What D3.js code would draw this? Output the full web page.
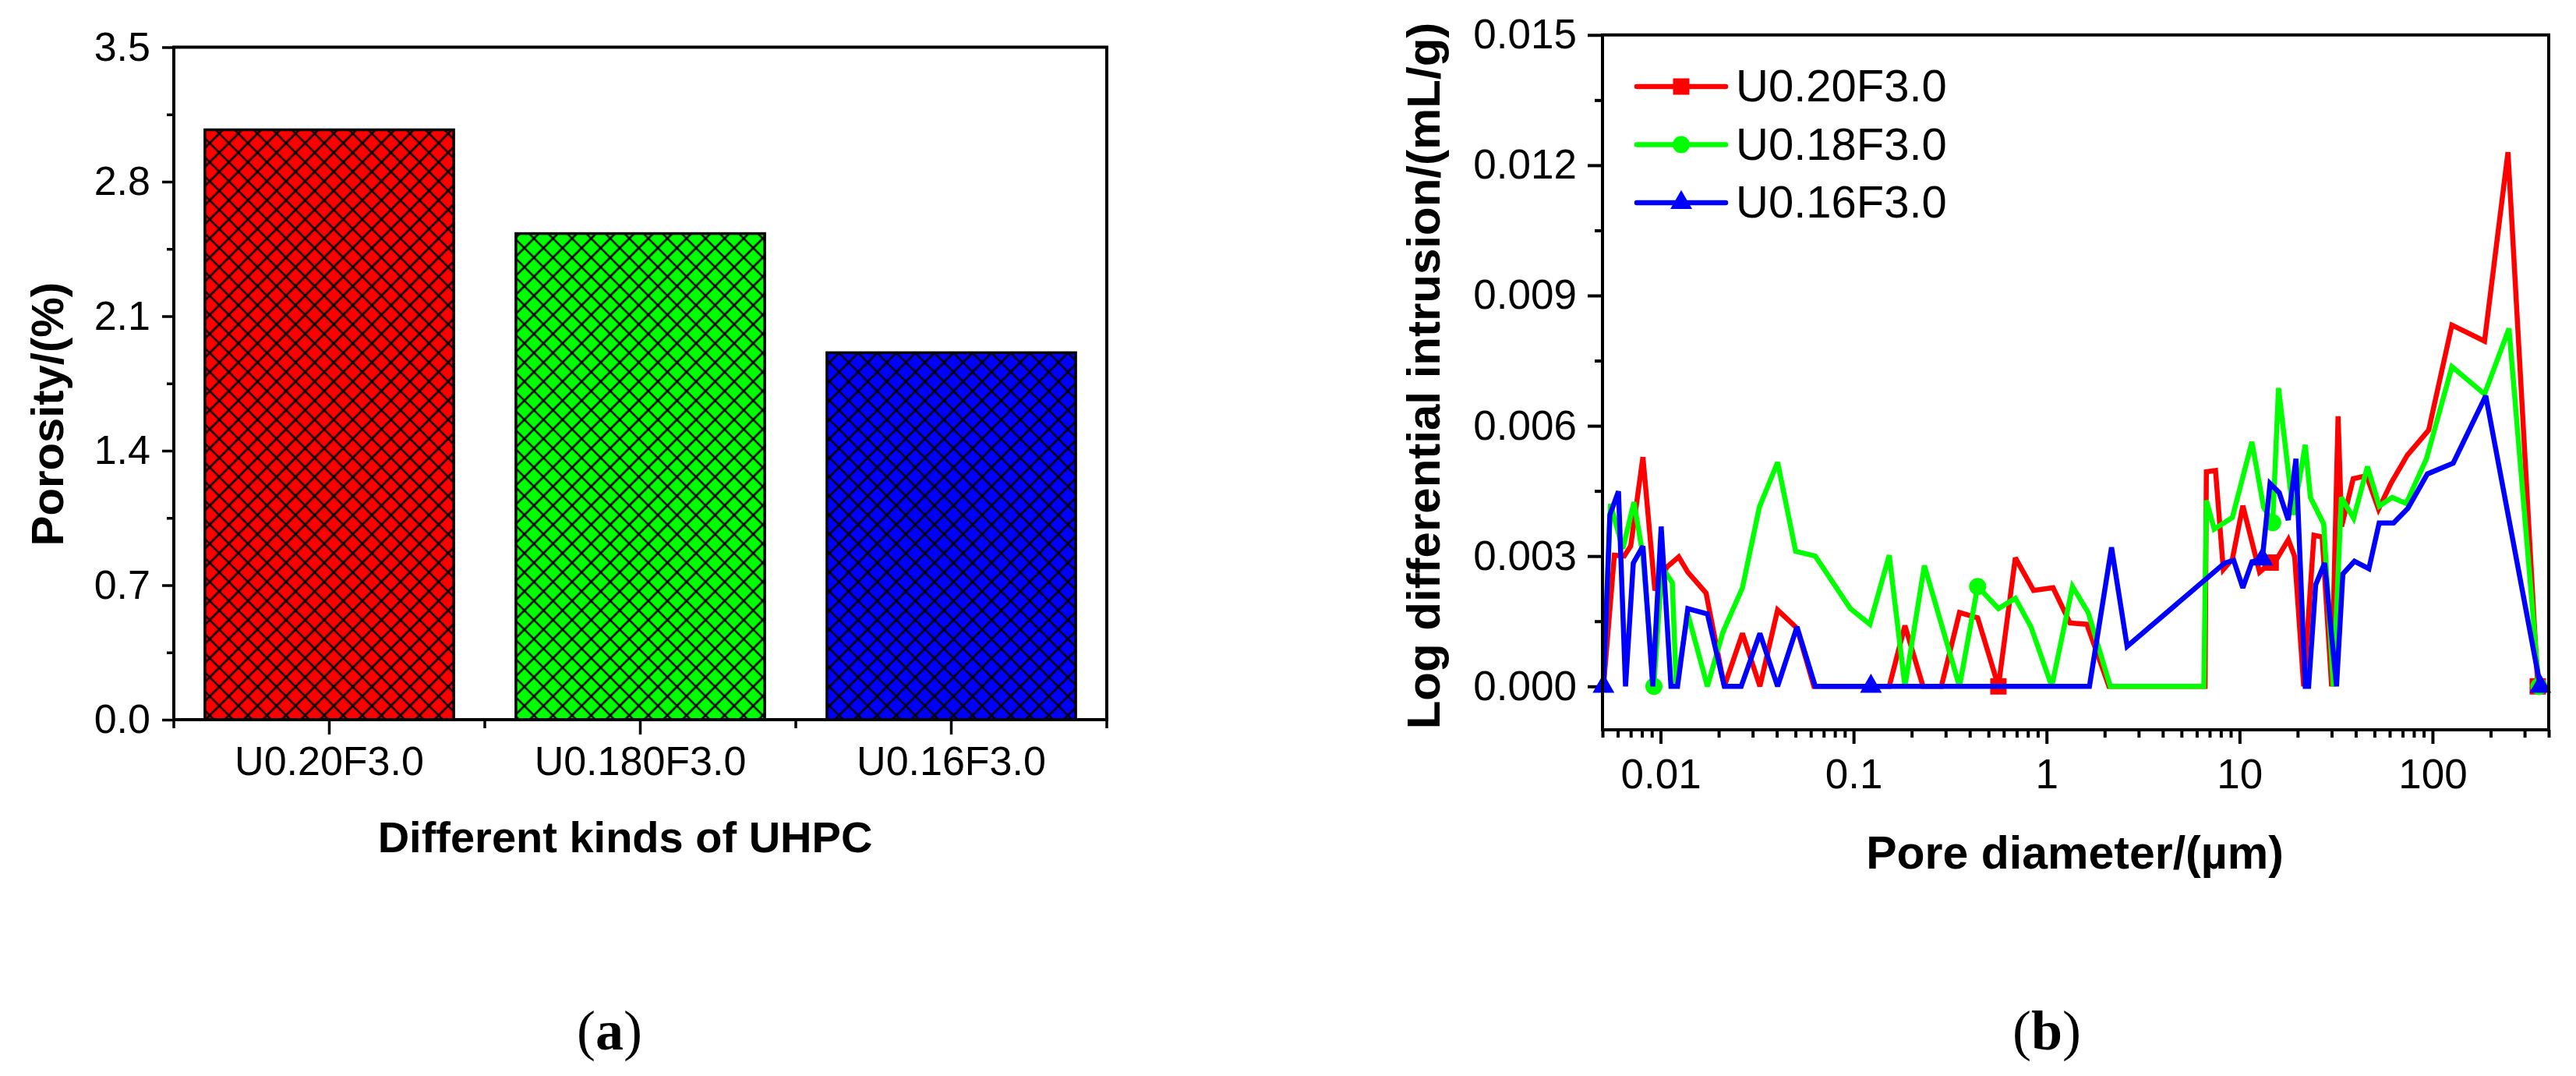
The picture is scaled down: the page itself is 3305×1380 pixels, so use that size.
<!DOCTYPE html>
<html>
<head>
<meta charset="utf-8">
<script src="https://cdn.jsdelivr.net/npm/d3@7"></script>
<style>
  body { margin: 0; background: #fff; }
  text { font-family: "Liberation Sans", Arial, sans-serif; fill: #000; }
</style>
</head>
<body>
<svg width="3305" height="1380"></svg>
<script>
// ---- panel (a) data ----
var kinds = ["U0.20F3.0", "U0.180F3.0", "U0.16F3.0"];
var porosity = [3.07, 2.53, 1.91];
var barColors = ["#ff0000", "#00ff00", "#0000ff"];
var porTicks = [0, 0.7, 1.4, 2.1, 2.8, 3.5];

// ---- panel (b) data: [pore diameter um, log differential intrusion mL/g] ----
var seriesNames = ["U0.20F3.0", "U0.18F3.0", "U0.16F3.0"];
var redData = [
  [0.00506, 0.0], [0.00576, 0.00302], [0.00648, 0.003], [0.007, 0.00323], [0.0081, 0.00528],
  [0.00934, 0.00221], [0.0108, 0.00275], [0.01242, 0.00298], [0.01384, 0.00263], [0.0172, 0.00215],
  [0.0214, 0.0], [0.02655, 0.00122], [0.0327, 0.0], [0.0404, 0.00176], [0.0509, 0.00134],
  [0.0623, 0.0], [0.153, 0.0], [0.1845, 0.0014], [0.229, 0.0], [0.285, 0.0],
  [0.354, 0.0017], [0.4395, 0.00158], [0.563, 0.0], [0.689, 0.00296], [0.856, 0.00221],
  [1.081, 0.00227], [1.322, 0.00146], [1.617, 0.00143], [2.105, 0.0], [6.63, 0.0],
  [6.73, 0.00494], [7.51, 0.00497], [8.24, 0.00269], [9.18, 0.00293], [10.4, 0.00416],
  [12.7, 0.00263], [14.5, 0.00285], [15.3, 0.00287], [17.9, 0.00338], [19.3, 0.00299],
  [21.5, 0.0], [24.3, 0.00348], [26.8, 0.00344], [30.0, 0.0], [32.4, 0.00622],
  [33.8, 0.00368], [38.8, 0.00478], [45.5, 0.00485], [52.5, 0.00408], [61, 0.00468],
  [74, 0.00532], [95.5, 0.0059], [126, 0.00832], [186, 0.00795], [246, 0.0123], [351, 0.0]
];
var greenData = [
  [0.00506, 0.0], [0.0055, 0.0042], [0.00637, 0.00317], [0.00728, 0.00424], [0.00808, 0.00304],
  [0.00923, 0.0], [0.01016, 0.00275], [0.0115, 0.00239], [0.01205, 0.0], [0.01384, 0.00167],
  [0.01748, 0.0], [0.02104, 0.00125], [0.02655, 0.00227], [0.0325, 0.00413], [0.0404, 0.00516],
  [0.0501, 0.00311], [0.0633, 0.003], [0.0962, 0.00179], [0.1214, 0.00143], [0.153, 0.00302],
  [0.1845, 0.0], [0.2327, 0.00278], [0.3538, 0.0], [0.4395, 0.0023], [0.5632, 0.00179],
  [0.689, 0.00203], [0.83, 0.00137], [1.064, 0.0], [1.363, 0.0023], [1.643, 0.0017],
  [2.138, 0.0], [6.53, 0.0], [6.73, 0.00428], [7.39, 0.00362], [9.18, 0.00389],
  [11.59, 0.00563], [13.32, 0.00413], [14.85, 0.00377], [15.92, 0.00687], [19.0, 0.00395],
  [21.9, 0.00556], [23.3, 0.00435], [27.3, 0.00374], [30.6, 0.0], [33.7, 0.00435],
  [39.0, 0.00387], [46.0, 0.00506], [53.0, 0.00415], [61.7, 0.00435], [73.0, 0.00421],
  [93.0, 0.00524], [126, 0.00736], [186, 0.00673], [249, 0.00824], [356, 0.0]
];
var blueData = [
  [0.00506, 0.0], [0.00546, 0.00395], [0.00605, 0.00449], [0.00658, 0.0], [0.00722, 0.00284],
  [0.0081, 0.00323], [0.00911, 0.0], [0.01007, 0.00368], [0.01132, 0.0], [0.01224, 0.0],
  [0.01384, 0.00179], [0.01748, 0.00167], [0.0214, 0.0], [0.02616, 0.0], [0.0327, 0.00122],
  [0.0404, 0.0], [0.0509, 0.00137], [0.0633, 0.0], [0.123, 0.0], [1.668, 0.0],
  [2.171, 0.0032], [2.615, 0.00092], [8.37, 0.00284], [9.33, 0.0029], [10.4, 0.00227],
  [11.6, 0.00287], [13.12, 0.00293], [14.39, 0.00467], [16.05, 0.00446], [17.88, 0.00383],
  [19.6, 0.00524], [21.9, 0.0], [22.8, 0.0], [24.8, 0.00234], [27.6, 0.00284],
  [31.8, 0.0], [34.3, 0.00259], [39.4, 0.00288], [46.8, 0.00271], [52.9, 0.00376],
  [62.8, 0.00376], [74.5, 0.0041], [94.0, 0.00489], [128, 0.00514], [188.7, 0.00669], [362, 0.0]
];
// x values where Origin drew the symbols
var redMarkers = [0.563, 14.5, 351];
var greenMarkers = [0.00923, 0.4395, 14.85, 356];
var blueMarkers = [0.00506, 0.123, 13.12, 362];
var intrTicks = [0, 0.003, 0.006, 0.009, 0.012, 0.015];
var intrMinor = [0.0015, 0.0045, 0.0075, 0.0105, 0.0135];
var poreTicks = [0.01, 0.1, 1, 10, 100];
var poreMinor = [0.005, 0.006, 0.007, 0.008, 0.009, 0.02, 0.03, 0.04, 0.05, 0.06, 0.07, 0.08, 0.09,
  0.2, 0.3, 0.4, 0.5, 0.6, 0.7, 0.8, 0.9, 2, 3, 4, 5, 6, 7, 8, 9,
  20, 30, 40, 50, 60, 70, 80, 90, 200, 300, 400];

var svg = d3.select("svg");
var defs = svg.append("defs");

// crosshatch fills for the bars
barColors.forEach(function (c, i) {
  var p = defs.append("pattern")
    .attr("id", "hatch" + i)
    .attr("patternUnits", "userSpaceOnUse")
    .attr("width", 17.3)
    .attr("height", 17.3)
    .attr("patternTransform", "rotate(45)");
  p.append("rect").attr("width", 17.3).attr("height", 17.3).attr("fill", c);
  p.append("path")
    .attr("d", "M8.65,0 V17.3 M0,8.65 H17.3")
    .attr("stroke", "#000")
    .attr("stroke-width", 2.6);
});

// ================= panel (a) =================
var ax0 = 223, ax1 = 1420, ay0 = 60.5, ay1 = 923;
var xa = d3.scaleBand().domain(kinds).range([ax0, ax1]).paddingInner(0.2).paddingOuter(0.1);
var ya = d3.scaleLinear().domain([0, 3.5]).range([ay1, ay0]);
var ga = svg.append("g");

ga.selectAll("rect.bar")
  .data(porosity)
  .enter()
  .append("rect")
  .attr("class", "bar")
  .attr("x", function (d, i) { return xa(kinds[i]); })
  .attr("y", function (d) { return ya(d); })
  .attr("width", xa.bandwidth())
  .attr("height", function (d) { return ya(0) - ya(d); })
  .attr("fill", function (d, i) { return "url(#hatch" + i + ")"; })
  .attr("stroke", "#000")
  .attr("stroke-width", 3.5);

// y axis (a)
ga.append("g")
  .attr("transform", "translate(" + ax0 + ",0)")
  .call(d3.axisLeft(ya).tickValues(porTicks).tickFormat(d3.format(".1f")).tickSize(15).tickPadding(15))
  .call(function (g) { g.select(".domain").remove(); });
ga.append("g")
  .attr("transform", "translate(" + ax0 + ",0)")
  .call(d3.axisLeft(ya).tickValues(porTicks.slice(0, 5).map(function (v) { return v + 0.35; })).tickFormat("").tickSize(9))
  .call(function (g) { g.select(".domain").remove(); });

// x axis (a): major ticks at bars, minor at group edges
ga.append("g")
  .attr("transform", "translate(0," + ay1 + ")")
  .call(d3.axisBottom(xa).tickSize(19).tickPadding(15))
  .call(function (g) { g.select(".domain").remove(); });
var edges = kinds.map(function (k) { return xa(k) - xa.step() * 0.1; });
edges.push(ax1);
ga.append("g")
  .selectAll("line")
  .data(edges)
  .enter()
  .append("line")
  .attr("x1", function (d) { return d; })
  .attr("x2", function (d) { return d; })
  .attr("y1", ay1)
  .attr("y2", ay1 + 11)
  .attr("stroke", "#000")
  .attr("stroke-width", 3.5);

ga.selectAll(".tick line").attr("stroke-width", 3.5);
ga.selectAll(".tick text").style("font-size", "52px");
ga.selectAll("g").filter(function () { return true; });

ga.append("rect")
  .attr("x", ax0).attr("y", ay0)
  .attr("width", ax1 - ax0).attr("height", ay1 - ay0)
  .attr("fill", "none").attr("stroke", "#000").attr("stroke-width", 4);

ga.append("text")
  .attr("transform", "translate(81,531) rotate(-90)")
  .attr("text-anchor", "middle")
  .style("font-size", "58px").style("font-weight", "bold")
  .text("Porosity/(%)");
ga.append("text")
  .attr("x", 802).attr("y", 1093)
  .attr("text-anchor", "middle")
  .style("font-size", "56px").style("font-weight", "bold")
  .text("Different kinds of UHPC");

// ================= panel (b) =================
var bx0 = 2056, bx1 = 3270, by0 = 44.8, by1 = 936;
var xb = d3.scaleLog().domain([0.005, 400]).range([bx0, bx1]);
var yb = d3.scaleLinear().domain([-0.001, 0.015]).range([by1, by0]);
var gb = svg.append("g");

gb.append("g")
  .attr("transform", "translate(" + bx0 + ",0)")
  .call(d3.axisLeft(yb).tickValues(intrTicks).tickFormat(d3.format(".3f")).tickSize(19).tickPadding(14))
  .call(function (g) { g.select(".domain").remove(); });
gb.append("g")
  .attr("transform", "translate(" + bx0 + ",0)")
  .call(d3.axisLeft(yb).tickValues(intrMinor).tickFormat("").tickSize(10))
  .call(function (g) { g.select(".domain").remove(); });
gb.append("g")
  .attr("transform", "translate(0," + by1 + ")")
  .call(d3.axisBottom(xb).tickValues(poreTicks).tickFormat(function (d) { return String(d); }).tickSize(18).tickPadding(19))
  .call(function (g) { g.select(".domain").remove(); });
gb.append("g")
  .attr("transform", "translate(0," + by1 + ")")
  .call(d3.axisBottom(xb).tickValues(poreMinor).tickFormat("").tickSize(10))
  .call(function (g) { g.select(".domain").remove(); });
gb.selectAll(".tick line").attr("stroke-width", 4);
gb.selectAll(".tick text").style("font-size", "53px");

var line = d3.line()
  .x(function (d) { return xb(d[0]); })
  .y(function (d) { return yb(d[1]); });

var allSeries = [
  { name: seriesNames[0], data: redData, marks: redMarkers, color: "#ff0000", sym: d3.symbolSquare, size: 441 },
  { name: seriesNames[1], data: greenData, marks: greenMarkers, color: "#00ff00", sym: d3.symbolCircle, size: 380 },
  { name: seriesNames[2], data: blueData, marks: blueMarkers, color: "#0000ff", sym: d3.symbolTriangle, size: 340 }
];

allSeries.forEach(function (s) {
  gb.append("path")
    .datum(s.data)
    .attr("d", line)
    .attr("fill", "none")
    .attr("stroke", s.color)
    .attr("stroke-width", 6.5)
    .attr("stroke-linejoin", "miter")
    .attr("stroke-miterlimit", 3);
  var pts = s.data.filter(function (d) { return s.marks.indexOf(d[0]) >= 0; });
  gb.append("g")
    .selectAll("path")
    .data(pts)
    .enter()
    .append("path")
    .attr("d", d3.symbol().type(s.sym).size(s.size))
    .attr("transform", function (d) { return "translate(" + xb(d[0]) + "," + yb(d[1]) + ")"; })
    .attr("fill", s.color);
});

gb.append("rect")
  .attr("x", bx0).attr("y", by0)
  .attr("width", bx1 - bx0).attr("height", by1 - by0)
  .attr("fill", "none").attr("stroke", "#000").attr("stroke-width", 4);

// legend
var leg = gb.append("g")
  .selectAll("g")
  .data(allSeries)
  .enter()
  .append("g")
  .attr("transform", function (d, i) { return "translate(2100," + (111 + i * 74.5) + ")"; });
leg.append("line")
  .attr("x1", 0).attr("x2", 114)
  .attr("stroke", function (d) { return d.color; })
  .attr("stroke-width", 6.5)
  .attr("stroke-linecap", "round");
leg.append("path")
  .attr("d", function (d) { return d3.symbol().type(d.sym).size(d.size)(); })
  .attr("transform", "translate(57,0)")
  .attr("fill", function (d) { return d.color; });
leg.append("text")
  .attr("x", 127).attr("y", 19)
  .style("font-size", "58px")
  .text(function (d) { return d.name; });

gb.append("text")
  .attr("transform", "translate(1847,482) rotate(-90)")
  .attr("text-anchor", "middle")
  .style("font-size", "60px").style("font-weight", "bold")
  .text("Log differential intrusion/(mL/g)");
gb.append("text")
  .attr("x", 2662).attr("y", 1114)
  .attr("text-anchor", "middle")
  .style("font-size", "59px").style("font-weight", "bold")
  .text("Pore diameter/(\u00b5m)");

// sub-figure captions
[["a", 782], ["b", 2626]].forEach(function (c) {
  var t = svg.append("text")
    .attr("x", c[1]).attr("y", 1346)
    .attr("text-anchor", "middle")
    .style("font-family", "'Liberation Serif', 'Times New Roman', serif")
    .style("font-size", "72px");
  t.append("tspan").text("(");
  t.append("tspan").style("font-weight", "bold").text(c[0]);
  t.append("tspan").text(")");
});
</script>
</body>
</html>
